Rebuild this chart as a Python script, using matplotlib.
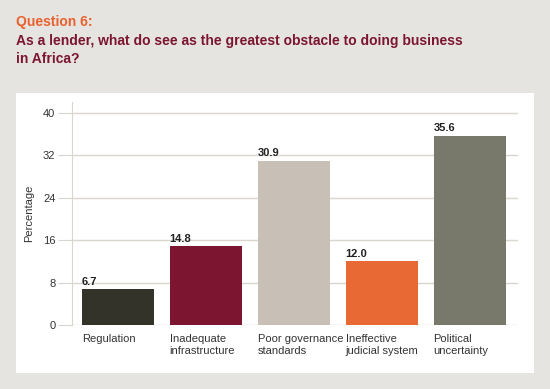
import matplotlib
matplotlib.use('Agg')
from matplotlib import pyplot as plt

plt.rcParams['font.family'] = ['Liberation Sans', 'DejaVu Sans']

categories = ['Regulation', 'Inadequate\ninfrastructure', 'Poor governance\nstandards',
              'Ineffective\njudicial system', 'Political\nuncertainty']
values = [6.7, 14.8, 30.9, 12.0, 35.6]
colors = ['#33332a', '#7b1530', '#c8c0b6', '#e86933', '#79796b']
yticks = [0, 8, 16, 24, 32, 40]

W, H = 550, 389
fig = plt.figure(figsize=(5.5, 3.89), dpi=100)
fig.patch.set_facecolor('#e6e4e0')

# white panel behind the chart
panel = fig.add_axes([16 / W, 1 - 373 / H, (534 - 16) / W, (373 - 93) / H], zorder=0)
panel.set_facecolor('white')
panel.set_xticks([])
panel.set_yticks([])
for s in panel.spines.values():
    s.set_visible(False)

fig.text(16 / W, 1 - 22 / H, 'Question 6:', color='#e8612c', fontsize=10,
         fontweight='bold', va='center')
fig.text(16 / W, 1 - 34 / H, 'As a lender, what do see as the greatest obstacle to doing business\nin Africa?',
         color='#7b1530', fontsize=10, fontweight='bold', va='top', linespacing=1.38)

ax = fig.add_axes([72 / W, 1 - 325 / H, (518 - 72) / W, (325 - 102) / H], zorder=1)
ax.set_facecolor('none')
x = list(range(len(values)))
width = 0.82
bars = ax.bar(x, values, width=width, color=colors, zorder=3)
ax.set_xlim(-0.52, 4.55)
ax.set_ylim(0, 42)
ax.set_yticks(yticks)
ax.yaxis.grid(True, color='#d9d6d0', linewidth=1, zorder=0)
ax.tick_params(axis='y', length=10, color='#d9d6d0', labelsize=8, labelcolor='#333333', pad=2)
ax.tick_params(axis='x', length=0)
ax.set_xticks([])
for s in ['top', 'right', 'bottom']:
    ax.spines[s].set_visible(False)
ax.spines['left'].set_color('#d9d6d0')
ax.set_ylabel('Percentage', fontsize=8, color='#333333', labelpad=6)

for xi, v, lab in zip(x, values, categories):
    left = xi - width / 2
    ax.text(left, v + 0.5, f'{v:.1f}', fontsize=8, fontweight='bold', color='#222222',
            ha='left', va='bottom')
    ax.text(left, -1.7, lab, fontsize=8, color='#333333', ha='left', va='top',
            linespacing=1.3, clip_on=False)

fig.savefig('out.png', dpi=100, facecolor=fig.get_facecolor())
